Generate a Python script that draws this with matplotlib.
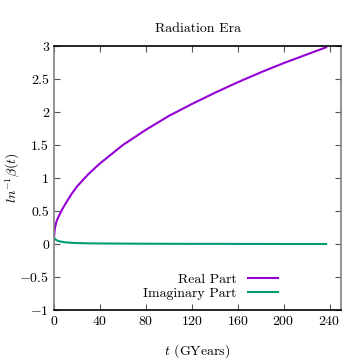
import matplotlib
matplotlib.use("Agg")
import matplotlib.pyplot as plt

plt.rcParams['font.family'] = 'serif'
plt.rcParams['font.serif'] = ['cmr10']
plt.rcParams['mathtext.fontset'] = 'cm'
plt.rcParams['axes.formatter.use_mathtext'] = True

# values
t = [0, 0.5, 1, 2, 3, 5, 7, 10, 15, 20, 30, 40, 60, 80, 100, 120, 140,
     160, 180, 200, 220, 237]
real_part = [0.10, 0.20, 0.26, 0.33, 0.38, 0.45, 0.52, 0.61, 0.75, 0.87,
             1.06, 1.22, 1.50, 1.73, 1.94, 2.12, 2.29, 2.45, 2.60, 2.74,
             2.87, 2.98]
imag_part = [0.10, 0.085, 0.075, 0.06, 0.05, 0.04, 0.033, 0.025, 0.018,
             0.014, 0.010, 0.008, 0.006, 0.004, 0.003, 0.002, 0.002, 0.001,
             0.001, 0.0, 0.0, 0.0]

xticks = [0, 40, 80, 120, 160, 200, 240]
yticks = [-1, -0.5, 0, 0.5, 1, 1.5, 2, 2.5, 3]

fig = plt.figure(figsize=(3.61, 3.61), dpi=100)
ax = fig.add_axes([0.1496, 0.1413, 0.795, 0.7313])

ax.plot(t, real_part, color='#9400D3', lw=1.5, label='Real Part')
ax.plot(t, imag_part, color='#009E73', lw=1.5, label='Imaginary Part')

ax.set_xlim(0, 250)
ax.set_ylim(-1, 3)
ax.set_xticks(xticks)
ax.set_yticks(yticks)
ax.set_yticklabels(['$-1$', '$-0.5$', '0', '0.5', '1', '1.5', '2', '2.5', '3'])
ax.tick_params(direction='in', top=True, right=True, labelsize=10, length=4,
               width=0.8, color='#555555')
for s in ['left', 'right']:
    ax.spines[s].set_color('#808080')
    ax.spines[s].set_linewidth(1.2)
for s in ['top', 'bottom']:
    ax.spines[s].set_linewidth(1.2)

ax.set_title('Radiation Era', fontsize=10, pad=10)
ax.set_xlabel('$t$ (GYears)', fontsize=10, labelpad=10)
ax.set_ylabel(r'$ln^{-1}\beta(t)$', fontsize=10)
ax.yaxis.set_label_coords(-0.112, 0.5)

ax.legend(loc='lower right', frameon=False, markerfirst=False, fontsize=10,
          handlelength=2.2, labelspacing=0.1, borderaxespad=0.3,
          bbox_to_anchor=(0.815, 0.0))

fig.savefig('out.png', dpi=100)
